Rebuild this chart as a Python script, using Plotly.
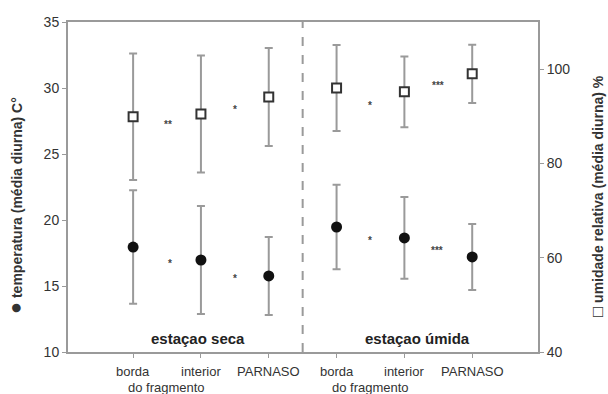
import plotly.graph_objects as go

# ---- data ----
positions = [1, 2, 3, 4, 5, 6]
label_line1 = ["borda", "interior", "PARNASO", "borda", "interior", "PARNASO"]
label_line2 = ["do fragmento", "", "", "do fragmento", "", ""]
seasons = ["estaçao seca", "estaçao úmida"]
season_x = [1.96, 5.2]

temp_mean = [17.95, 16.97, 15.76, 19.47, 18.64, 17.2]
temp_err = [4.3, 4.1, 2.95, 3.2, 3.1, 2.5]

hum_mean = [89.9, 90.5, 94.1, 96.0, 95.2, 99.0]
hum_err = [13.4, 12.4, 10.4, 9.1, 7.5, 6.2]

temp_sig_x = [1.55, 2.5, 4.5, 5.48]
temp_sig_y = [16.9, 15.76, 18.71, 17.95]
temp_sig = ["*", "*", "*", "***"]

hum_sig_x = [1.52, 2.5, 4.5, 5.5]
hum_sig_y = [89.0, 92.0, 93.0, 97.1]
hum_sig = ["**", "*", "*", "***"]

left_ticks = [10, 15, 20, 25, 30, 35]
right_ticks = [40, 60, 80, 100]

left_symbol, left_title = "●", "temperatura (média diurna) C°"
right_symbol, right_title = "□", "umidade relativa (média diurna) %"

FONT = "Liberation Sans, Arial, sans-serif"
TXT = "#333333"
AX = "#9a9a9a"

fig = go.Figure()

fig.add_trace(go.Scatter(
    x=positions, y=hum_mean, yaxis="y2", mode="markers",
    marker=dict(symbol="square", size=9, color="white",
                line=dict(color="#333333", width=2)),
    error_y=dict(type="data", array=hum_err, color=AX, thickness=2, width=4),
    showlegend=False, hoverinfo="skip"))

fig.add_trace(go.Scatter(
    x=positions, y=temp_mean, mode="markers",
    marker=dict(symbol="circle", size=11, color="#111111"),
    error_y=dict(type="data", array=temp_err, color=AX, thickness=2, width=4),
    showlegend=False, hoverinfo="skip"))

annotations = []
for p, l1, l2 in zip(positions, label_line1, label_line2):
    annotations.append(dict(x=p, y=-0.058, xref="x", yref="paper", text=l1,
                            showarrow=False, xanchor="center", yanchor="middle",
                            font=dict(family=FONT, size=13, color=TXT)))
    if l2:
        annotations.append(dict(x=p - 0.1, y=-0.109, xref="x", yref="paper", text=l2,
                                showarrow=False, xanchor="left", yanchor="middle",
                                font=dict(family=FONT, size=13, color=TXT)))

for s, sx in zip(seasons, season_x):
    annotations.append(dict(x=sx, y=0.042, xref="x", yref="paper", text="<b>%s</b>" % s,
                            showarrow=False, xanchor="center", yanchor="middle",
                            font=dict(family=FONT, size=15, color="#222222")))

for sx, sy, st in zip(temp_sig_x, temp_sig_y, temp_sig):
    annotations.append(dict(x=sx, y=sy, xref="x", yref="y", text="<b>%s</b>" % st,
                            showarrow=False, yshift=-3,
                            font=dict(family=FONT, size=10, color="#444444")))
for sx, sy, st in zip(hum_sig_x, hum_sig_y, hum_sig):
    annotations.append(dict(x=sx, y=sy, xref="x", yref="y2", text="<b>%s</b>" % st,
                            showarrow=False, yshift=-3,
                            font=dict(family=FONT, size=10, color="#444444")))

annotations.append(dict(x=-0.113, y=0.445, xref="paper", yref="paper",
                        text="<span style='font-size:20px'>%s</span> <b>%s</b>" % (left_symbol, left_title),
                        textangle=-90, showarrow=False,
                        xanchor="center", yanchor="middle",
                        font=dict(family=FONT, size=14, color=TXT)))
annotations.append(dict(x=1.128, y=0.473, xref="paper", yref="paper",
                        text="<span style='font-size:17px'><b>%s</b></span> <b>%s</b>" % (right_symbol, right_title),
                        textangle=-90, showarrow=False,
                        xanchor="center", yanchor="middle",
                        font=dict(family=FONT, size=14, color=TXT)))

fig.update_layout(
    width=608, height=394,
    margin=dict(l=68, r=70, t=22, b=42, autoexpand=False),
    plot_bgcolor="white", paper_bgcolor="white",
    font=dict(family=FONT, size=13, color=TXT),
    xaxis=dict(range=[0.04, 6.97], tickvals=positions, ticktext=[""] * 6,
               showgrid=False, zeroline=False, showline=True, linecolor=AX,
               linewidth=2, mirror=True, ticks="outside", ticklen=4, tickcolor=AX,
               automargin=False),
    yaxis=dict(range=[10, 35], tickvals=left_ticks, showgrid=False, zeroline=False,
               showline=True, linecolor=AX, linewidth=2, ticks="outside", ticklen=4,
               tickcolor=AX, tickfont=dict(size=14, color=TXT), automargin=False),
    yaxis2=dict(range=[40, 110], tickvals=right_ticks, overlaying="y", side="right",
                showgrid=False, zeroline=False, showline=True, linecolor=AX,
                linewidth=2, ticks="outside", ticklen=4, tickcolor=AX,
                tickfont=dict(size=14, color=TXT), automargin=False),
    shapes=[dict(type="line", xref="x", yref="paper", x0=3.5, x1=3.5, y0=0, y1=1,
                 line=dict(color=AX, width=2, dash="dash"))],
    annotations=annotations,
)

fig.write_html("out.html", config={"displayModeBar": False},
               post_script="document.body.style.margin='0';document.body.style.overflow='hidden';")
